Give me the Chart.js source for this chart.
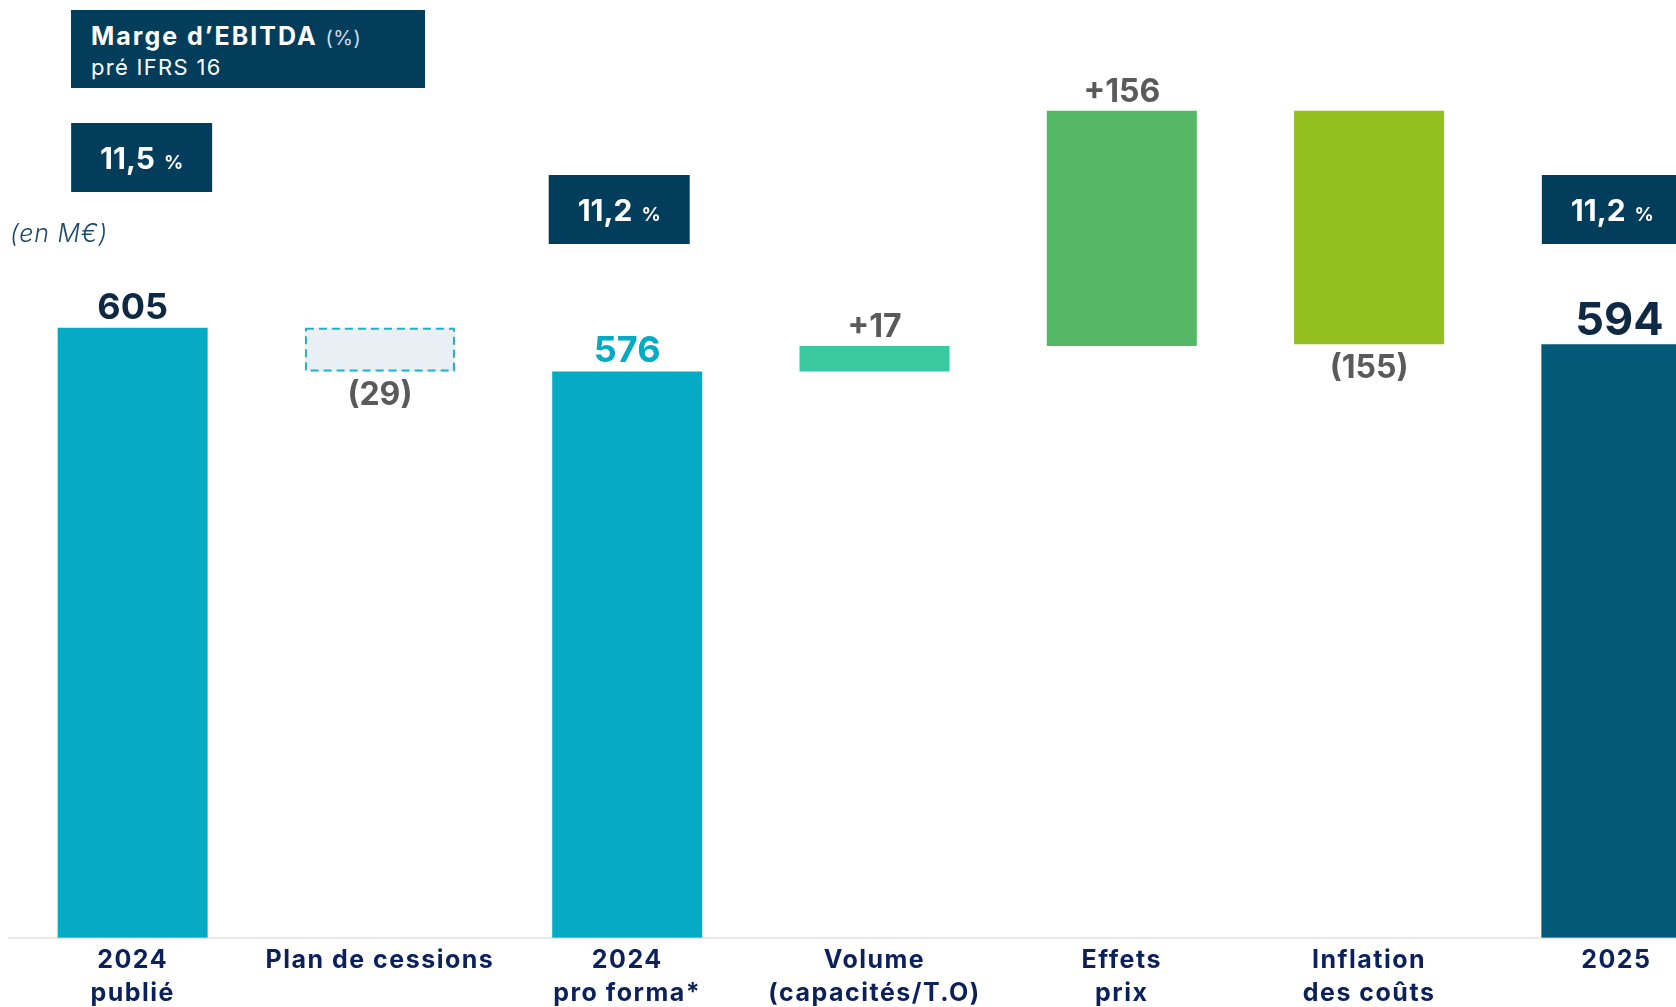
<!DOCTYPE html>
<html>
<head>
<meta charset="utf-8">
<script src="https://cdn.jsdelivr.net/npm/chart.js@4/dist/chart.umd.min.js"></script>
<style>
  html, body { margin: 0; padding: 0; background: #ffffff; overflow: hidden; width: 1676px; height: 1007px; }
  #wrap { position: absolute; left: 0; top: 0; width: 1745px; height: 1007px; }
  #title { position: absolute; left: 71px; top: 10px; width: 354px; height: 78px; background: #023e5c; color: #fff; font-family: Inter, "Open Sans", sans-serif; }
  #title .l1 { position: absolute; left: 20px; top: 12px; font-size: 25px; font-weight: 700; letter-spacing: 2px; white-space: nowrap; line-height: 28px; }
  #title .l1 span { font-size: 20px; font-weight: 400; letter-spacing: 0.5px; color: #d3dde5; }
  #title .l2 { position: absolute; left: 20px; top: 44px; font-size: 22px; font-weight: 400; letter-spacing: 1.3px; white-space: nowrap; line-height: 26px; }
  #unit { position: absolute; left: 10px; top: 218px; font-family: Inter, "Open Sans", sans-serif; font-style: italic; font-weight: 300; font-size: 25px; letter-spacing: 0.8px; color: #1b4a6b; line-height: 30px; }
</style>
</head>
<body>
<div id="wrap"><canvas id="c" width="1745" height="1007"></canvas></div>
<div id="title"><div class="l1">Marge d’EBITDA <span>(%)</span></div><div class="l2">pré IFRS 16</div></div>
<div id="unit">(en M€)</div>
<script>
// ---- data ----
const categories = [
  ['2024', 'publié'],
  ['Plan de cessions'],
  ['2024', 'pro forma*'],
  ['Volume', '(capacités/T.O)'],
  ['Effets', 'prix'],
  ['Inflation', 'des coûts'],
  ['2025']
];
const stepValues = [605, -29, 576, 17, 156, -155, 594];
const stepKinds = ['total', 'delta', 'total', 'delta', 'delta', 'delta', 'total'];
const marginLabels = ['11,5', null, '11,2', null, null, null, '11,2'];

// ---- styles ----
const barColors = ['#05abc4', '#e8eff5', '#05abc4', '#38c9a0', '#55b866', '#93c01f', '#025a78'];
const labelColors = ['#0f2945', '#5a5a5a', '#05abc4', '#5a5a5a', '#5a5a5a', '#5a5a5a', '#0f2945'];
const labelSizes = [36, 32, 36, 32, 32, 32, 45];
const dashedBars = [false, true, false, false, false, false, false];
const boxTops = [123, null, 175, null, null, null, 175];
const boxShift = [9, 0, -8, 0, 0, 0, -4];
const FONT = 'Inter, "Open Sans", sans-serif';

// build waterfall bars from the step values
let running = 0;
const barData = stepValues.map((v, i) => {
  if (stepKinds[i] === 'total') { running = v; return v; }
  const start = running; running = running + v; return [start, running];
});
const labelTexts = stepValues.map((v, i) => {
  if (v < 0) return '(' + Math.abs(v) + ')';
  if (stepKinds[i] === 'delta') return '+' + v;
  return String(v);
});

const spacing = {
  id: 'spacing',
  beforeDraw(chart) { chart.ctx.letterSpacing = '1.5px'; }
};

const decor = {
  id: 'decor',
  afterDatasetsDraw(chart) {
    const ctx = chart.ctx;
    const meta = chart.getDatasetMeta(0);
    meta.data.forEach((bar, i) => {
      const p = bar.getProps(['x', 'y', 'base', 'width'], true);
      const top = Math.min(p.y, p.base), bottom = Math.max(p.y, p.base);
      const left = p.x - p.width / 2;
      ctx.save();
      ctx.letterSpacing = '0px';
      if (dashedBars[i]) {
        ctx.strokeStyle = '#1ab4cb';
        ctx.lineWidth = 2;
        ctx.setLineDash([8, 5]);
        ctx.strokeRect(left + 1, top + 1, p.width - 2, bottom - top - 2);
        ctx.setLineDash([]);
      }
      ctx.fillStyle = labelColors[i];
      ctx.font = '700 ' + labelSizes[i] + 'px ' + FONT;
      ctx.textAlign = 'center';
      ctx.textBaseline = 'alphabetic';
      const cap = labelSizes[i] * 0.727;
      if (stepValues[i] < 0) {
        ctx.fillText(labelTexts[i], p.x, bottom + 10 + cap);
      } else {
        ctx.fillText(labelTexts[i], p.x + (i === 6 ? 3 : 0), top - 9);
      }
      if (marginLabels[i]) {
        const bw = 141, bh = 69;
        const bx = p.x + boxShift[i] - bw / 2;
        const by = boxTops[i];
        ctx.fillStyle = '#023e5c';
        ctx.fillRect(bx, by, bw, bh);
        ctx.fillStyle = '#ffffff';
        ctx.font = '700 30px ' + FONT;
        const w1 = ctx.measureText(marginLabels[i]).width;
        ctx.font = '700 19px ' + FONT;
        const w2 = ctx.measureText('%').width;
        const gap = 9;
        const startX = bx + bw / 2 - (w1 + gap + w2) / 2;
        ctx.textAlign = 'left';
        ctx.font = '700 30px ' + FONT;
        ctx.fillText(marginLabels[i], startX, by + 46);
        ctx.font = '700 19px ' + FONT;
        ctx.fillText('%', startX + w1 + gap, by + 46);
      }
      ctx.restore();
    });
  }
};

new Chart(document.getElementById('c'), {
  type: 'bar',
  data: {
    labels: categories,
    datasets: [{
      data: barData,
      backgroundColor: barColors,
      borderWidth: 0,
      barPercentage: 0.6066,
      categoryPercentage: 1.0
    }]
  },
  options: {
    responsive: false,
    animation: false,
    devicePixelRatio: 1,
    layout: { padding: { left: 9, right: 5, top: 34, bottom: 0 } },
    plugins: { legend: { display: false }, tooltip: { enabled: false } },
    scales: {
      y: { display: false, min: 200, max: 800 },
      x: {
        afterFit(scale) { scale.height = 69; },
        grid: { display: true, color: 'rgba(0,0,0,0)', drawTicks: false, drawOnChartArea: false },
        border: { display: true, color: 'rgba(205,205,205,0.45)', width: 2, z: 1 },
        ticks: {
          color: '#0b215c',
          font: { family: FONT, weight: '700', size: 25, lineHeight: 1.32 },
          padding: 6,
          maxRotation: 0,
          autoSkip: false
        }
      }
    }
  },
  plugins: [spacing, decor]
});
</script>
</body>
</html>
